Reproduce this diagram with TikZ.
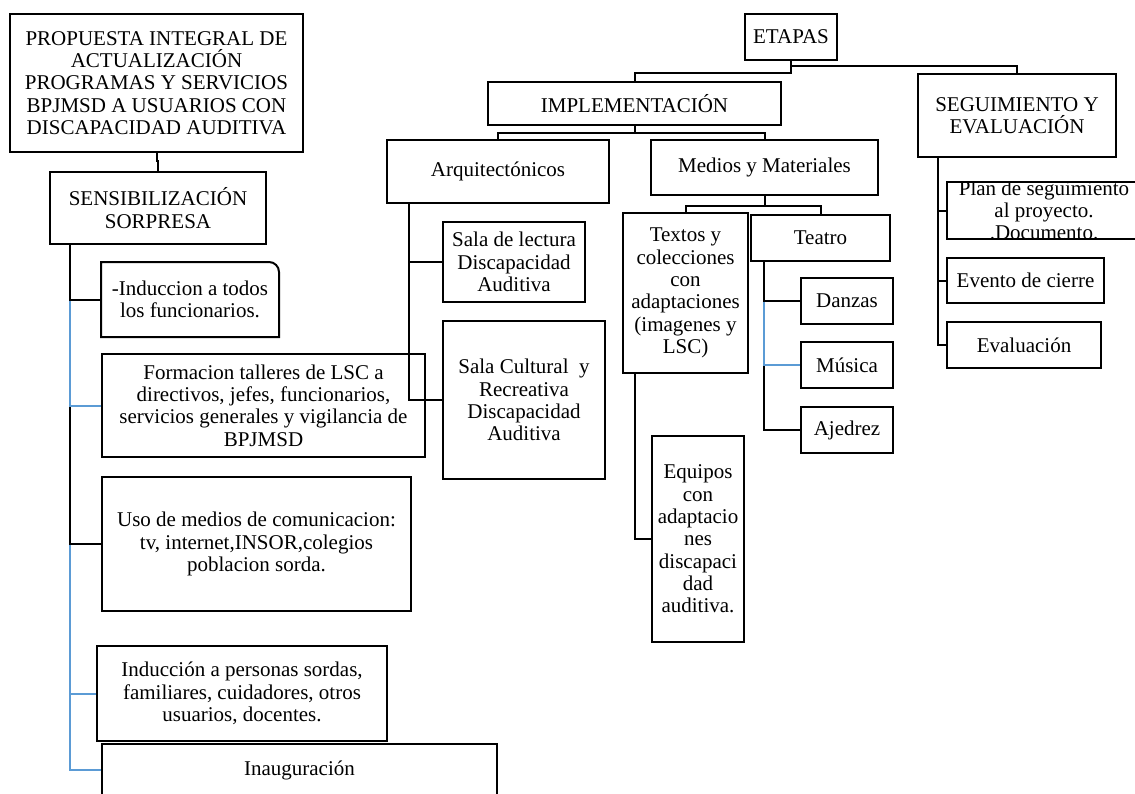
\documentclass[tikz,border=0pt]{standalone}
\usepackage{fontspec}
\setmainfont{Liberation Serif}
\definecolor{linkblue}{RGB}{91,155,213}
\tikzset{
  box/.style={draw, line width=2pt, align=center, inner sep=0pt,
    font=\fontsize{21}{22.3}\selectfont},
  link/.style={line width=2pt},
  bluelink/.style={link, linkblue}
}
\begin{document}
\begin{tikzpicture}[x=1pt,y=-1pt]
  \useasboundingbox (0,0) rectangle (1135,793);

  \node [box, minimum width=293pt, minimum height=138pt] (prop) at (156.5,83) {PROPUESTA INTEGRAL DE\\ACTUALIZACIÓN\\PROGRAMAS Y SERVICIOS\\BPJMSD A USUARIOS CON\\DISCAPACIDAD AUDITIVA};
  \node [box, minimum width=216pt, minimum height=72pt] (sens) at (158,208) {SENSIBILIZACIÓN\\SORPRESA};
  \node [box, draw=none, minimum width=176pt, minimum height=73pt] (induc) at (190,299.5) {-Induccion a todos\\los funcionarios.};
  \draw [link] (induc.north) [rounded corners=10pt] -- (induc.north east) -- (induc.east) [sharp corners] -- (induc.south east) -- (induc.south west) -- (induc.north west) -- cycle;
  \node [box, minimum width=323pt, minimum height=103pt] (form) at (263.5,405.5) {Formacion talleres de LSC a\\directivos, jefes, funcionarios,\\servicios generales y vigilancia de\\BPJMSD};
  \node [box, minimum width=309pt, minimum height=134pt] (uso) at (256.5,544) {Uso de medios de comunicacion:\\tv, internet,INSOR,colegios\\poblacion sorda.};
  \node [box, minimum width=290pt, minimum height=95pt] (inducp) at (242,693.5) {Inducción a personas sordas,\\familiares, cuidadores, otros\\usuarios, docentes.};
  \node [box, minimum width=395pt, minimum height=52pt] (inaug) at (299.5,770) {Inauguración};

  \node [box, minimum width=92pt, minimum height=46pt] (etapas) at (791,37) {ETAPAS};
  \node [box, minimum width=293pt, minimum height=43pt] (impl) at (634.5,103.5) {IMPLEMENTACIÓN};
  \node [box, minimum width=198pt, minimum height=83pt] (seg) at (1017,115.5) {SEGUIMIENTO Y\\EVALUACIÓN};
  \node [box, minimum width=222pt, minimum height=63pt] (arq) at (498,171.5) {Arquitectónicos};
  \node [box, minimum width=227pt, minimum height=55pt] (medios) at (764.5,167.5) {Medios y Materiales};
  \node [box, minimum width=142pt, minimum height=80pt] (lectura) at (514,262) {Sala de lectura\\Discapacidad\\Auditiva};
  \node [box, minimum width=162pt, minimum height=158pt] (cultural) at (524,400) {Sala Cultural~ y\\Recreativa\\Discapacidad\\Auditiva};
  \node [box, minimum width=125pt, minimum height=160pt] (textos) at (685.5,293) {Textos y\\colecciones\\con\\adaptaciones\\(imagenes y\\LSC)};
  \node [box, minimum width=139pt, minimum height=46pt] (teatro) at (820.5,238) {Teatro};
  \node [box, minimum width=92pt, minimum height=46pt] (danzas) at (847,301) {Danzas};
  \node [box, minimum width=92pt, minimum height=46pt] (musica) at (847,365) {Música};
  \node [box, minimum width=92pt, minimum height=46pt] (ajedrez) at (847,430) {Ajedrez};
  \node [box, minimum width=92pt, minimum height=206pt] (equipos) at (698,539) {Equipos\\con\\adaptacio\\nes\\discapaci\\dad\\auditiva.};
  \node [box, minimum width=194pt, minimum height=57pt] (plan) at (1044,210.5) {};
  \begin{scope}
    \clip (plan.south west) rectangle (plan.north east);
    \node [box, draw=none] (plantext) at (plan.center) {Plan de seguimiento\\al proyecto.\\.Documento.};
  \end{scope}
  \node [box, minimum width=157pt, minimum height=45pt] (cierre) at (1025.5,280.5) {Evento de cierre};
  \node [box, minimum width=154pt, minimum height=46pt] (evalua) at (1024,345) {Evaluación};

  \draw [link] (prop.south) -- ++(0,8) -| (sens.north);
  \coordinate (strunk) at ([xshift=21pt]sens.south west);
  \foreach \kid/\sty in {inaug/bluelink, inducp/bluelink, uso/link, form/bluelink, induc/link}
    \draw [\sty] (strunk) |- (\kid.west);

  \draw [link] (etapas.south) -- ++(0,12) -| (impl.north);
  \draw [link] (etapas.south) ++(0,5) -| (seg.north);
  \draw [link] (impl.south) -- ++(0,7) -| (arq.north);
  \draw [link] (impl.south) ++(0,7) -| (medios.north);
  \draw [link] (medios.south) -- ++(0,10) -| (textos.north);
  \draw [link] (medios.south) ++(0,10) -| (teatro.north);

  \coordinate (atrunk) at ([xshift=23pt]arq.south west);
  \draw [link] (atrunk) |- (lectura.west);
  \draw [link] (atrunk) |- (cultural.west);
  \coordinate (xtrunk) at ([xshift=13pt]textos.south west);
  \draw [link] (xtrunk) |- (equipos.west);
  \coordinate (ttrunk) at ([xshift=14pt]teatro.south west);
  \foreach \kid/\sty in {ajedrez/link, musica/bluelink, danzas/link}
    \draw [\sty] (ttrunk) |- (\kid.west);
  \coordinate (etrunk) at ([xshift=21pt]seg.south west);
  \foreach \kid in {plan, cierre, evalua}
    \draw [link] (etrunk) |- (\kid.west);
\end{tikzpicture}
\end{document}
